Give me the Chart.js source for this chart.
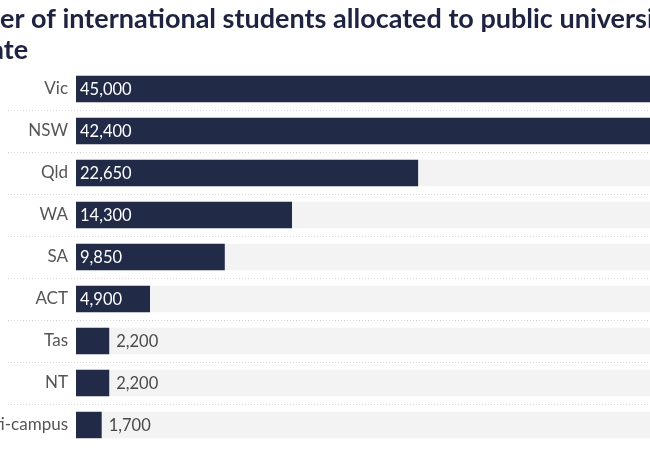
<!DOCTYPE html>
<html>
<head>
<meta charset="utf-8">
<script src="https://cdn.jsdelivr.net/npm/chart.js@4.4.1/dist/chart.umd.min.js"></script>
<style>
  html, body { margin: 0; padding: 0; background: #fff; overflow: hidden; }
</style>
</head>
<body>
<canvas id="myChart" width="650" height="449"></canvas>
<script>
// data
const titleLines = ['Number of international students allocated to public universities by', 'state'];
const states = ['Vic', 'NSW', 'Qld', 'WA', 'SA', 'ACT', 'Tas', 'NT', 'Multi-campus'];
const allocated = [45000, 42400, 22650, 14300, 9850, 4900, 2200, 2200, 1700];
// grey track behind each bar runs to the largest value
const track = states.map(() => Math.max(...allocated));

const NAVY = '#212a47';
const FONT = 'Lato';

// title is cut off at both sides in the picture, so draw it past the canvas edge
const croppedTitle = {
  id: 'croppedTitle',
  beforeDraw(chart) {
    const ctx = chart.ctx;
    ctx.save();
    ctx.font = 'bold 27px ' + FONT;
    ctx.fillStyle = '#1d2340';
    ctx.textBaseline = 'alphabetic';
    ctx.fillText(titleLines[0], -ctx.measureText('Numb').width, 28);
    ctx.fillText(titleLines[1], -ctx.measureText('sta').width + 4, 59);
    ctx.restore();
  }
};

// dotted separators between rows, running under the labels too
const rowLines = {
  id: 'rowLines',
  beforeDatasetsDraw(chart) {
    const ctx = chart.ctx;
    const y = chart.scales.y;
    ctx.save();
    ctx.strokeStyle = '#d6d6d6';
    ctx.lineWidth = 1;
    ctx.setLineDash([1, 2]);
    for (let i = 1; i < states.length; i++) {
      const yy = Math.round((y.getPixelForValue(i - 1) + y.getPixelForValue(i)) / 2) + 0.5;
      ctx.beginPath();
      ctx.moveTo(8, yy);
      ctx.lineTo(chart.width, yy);
      ctx.stroke();
    }
    ctx.restore();
  }
};

// value labels: inside the bar when it fits, otherwise just after it
const valueLabels = {
  id: 'valueLabels',
  afterDatasetsDraw(chart) {
    const ctx = chart.ctx;
    const meta = chart.getDatasetMeta(0);
    ctx.save();
    ctx.font = '16.5px ' + FONT;
    ctx.textBaseline = 'middle';
    ctx.textAlign = 'left';
    meta.data.forEach((bar, i) => {
      const txt = allocated[i].toLocaleString('en-US');
      const w = ctx.measureText(txt).width;
      if (bar.x - bar.base > w + 12) {
        ctx.fillStyle = '#ffffff';
        ctx.fillText(txt, bar.base + 4, bar.y + 1);
      } else {
        ctx.fillStyle = '#4a4a4a';
        ctx.fillText(txt, bar.x + 7, bar.y + 1);
      }
    });
    ctx.restore();
  }
};

const data = {
  labels: states,
  datasets: [
    {
      label: 'Allocated',
      data: allocated,
      backgroundColor: NAVY,
      grouped: false,
      order: 0,
      categoryPercentage: 1,
      barPercentage: 0.63
    },
    {
      label: 'Track',
      data: track,
      backgroundColor: '#f3f3f3',
      grouped: false,
      order: 1,
      categoryPercentage: 1,
      barPercentage: 0.63
    }
  ]
};

const config = {
  type: 'bar',
  data: data,
  options: {
    indexAxis: 'y',
    responsive: false,
    animation: false,
    devicePixelRatio: 1,
    layout: { padding: { top: 68, bottom: 3, left: 0, right: 0 } },
    plugins: {
      legend: { display: false },
      tooltip: { enabled: false },
      title: { display: false }
    },
    scales: {
      x: {
        display: false,
        min: 0,
        max: 38000
      },
      y: {
        afterFit(scale) {
          scale.width = 76;
          scale.paddingTop = 0;
          scale.paddingBottom = 0;
        },
        grid: { display: false, drawTicks: false },
        border: { display: false },
        ticks: {
          autoSkip: false,
          padding: 8,
          color: '#555555',
          font: { family: FONT, size: 17 }
        }
      }
    }
  },
  plugins: [croppedTitle, rowLines, valueLabels]
};

const myChart = new Chart(document.getElementById('myChart'), config);
</script>
</body>
</html>
